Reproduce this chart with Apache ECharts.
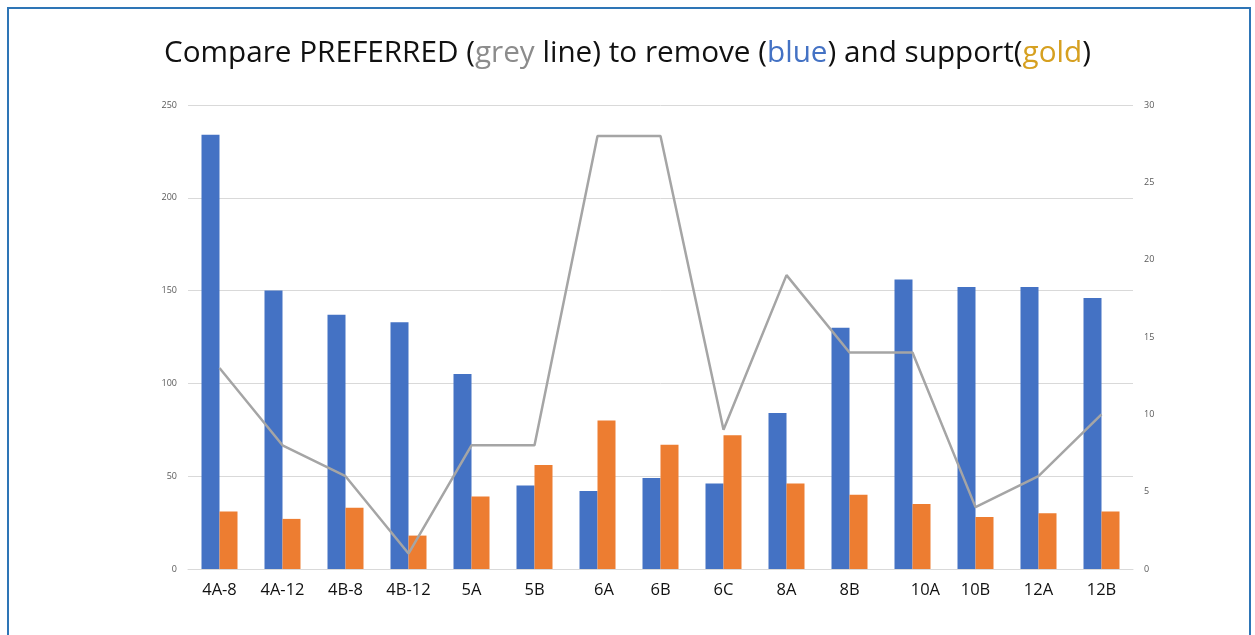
<!DOCTYPE html>
<html>
<head>
<meta charset="utf-8">
<script src="https://cdn.jsdelivr.net/npm/echarts@6/dist/echarts.min.js"></script>
<style>
  html, body { margin: 0; padding: 0; background: #fff; }
  #frame { position: absolute; left: 7px; top: 7px; width: 1244px; height: 700px; border: 2px solid #2E75B6; box-sizing: border-box; }
  #chart { position: absolute; left: 0; top: 0; width: 1255px; height: 635px; }
</style>
</head>
<body>
<div id="frame"></div>
<div id="chart"></div>
<script>
// categories (leading spaces copy the odd label offsets of the original)
const categories = ['4A-8', '4A-12', '4B-8', '4B-12', '5A', '5B', '   6A', '6B', '6C', '8A', '8B', '      10A', '10B', '12A', '12B'];
const removeVals = [234, 150, 137, 133, 105, 45, 42, 49, 46, 84, 130, 156, 152, 152, 146];
const supportVals = [31, 27, 33, 18, 39, 56, 80, 67, 72, 46, 40, 35, 28, 30, 31];
const preferredVals = [13, 8, 6, 1, 8, 8, 28, 28, 9, 19, 14, 14, 4, 6, 10];

let chart = echarts.init(document.getElementById('chart'));

const tFont = { fontSize: 29.7, fontFamily: 'Open Sans', fontWeight: 'normal' };

let option = {
    backgroundColor: 'transparent',
    animation: false,
    title: {
        left: 'center',
        top: 34,
        text: '{k|Compare PREFERRED (}{g|grey}{k| line) to remove (}{b|blue}{k|) and support(}{y|gold}{k|)}',
        textStyle: {
            fontWeight: 'normal',
            rich: {
                k: Object.assign({ color: '#111' }, tFont),
                g: Object.assign({ color: '#8C8C8C' }, tFont),
                b: Object.assign({ color: '#4472C4' }, tFont),
                y: Object.assign({ color: '#D6A020' }, tFont)
            }
        }
    },
    grid: {
        left: 188,
        right: 122,
        top: 105,
        bottom: 66
    },
    xAxis: {
        type: 'category',
        data: categories,
        axisLine: { lineStyle: { color: '#D9D9D9', width: 1 } },
        axisTick: { show: false },
        axisLabel: {
            color: '#111',
            fontSize: 16.5,
            fontFamily: 'Open Sans',
            margin: 13,
            interval: 0
        }
    },
    yAxis: [{
        type: 'value',
        min: 0,
        max: 250,
        interval: 50,
        axisLine: { show: false },
        axisTick: { show: false },
        splitLine: { lineStyle: { color: '#D9D9D9' } },
        axisLabel: { color: '#595959', fontSize: 9, fontFamily: 'Open Sans', margin: 11 }
    }, {
        type: 'value',
        min: 0,
        max: 30,
        interval: 5,
        axisLine: { show: false },
        axisTick: { show: false },
        splitLine: { show: false },
        axisLabel: { color: '#595959', fontSize: 9, fontFamily: 'Open Sans', margin: 11 }
    }],
    series: [{
        name: 'remove',
        type: 'bar',
        data: removeVals,
        barWidth: 18,
        barGap: '0%',
        itemStyle: { color: '#4472C4' }
    }, {
        name: 'support',
        type: 'bar',
        data: supportVals,
        barWidth: 18,
        itemStyle: { color: '#ED7D31' }
    }, {
        name: 'PREFERRED',
        type: 'line',
        yAxisIndex: 1,
        data: preferredVals,
        symbol: 'none',
        lineStyle: { color: '#A5A5A5', width: 2.5 },
        z: 5
    }]
};

chart.setOption(option);
</script>
</body>
</html>
